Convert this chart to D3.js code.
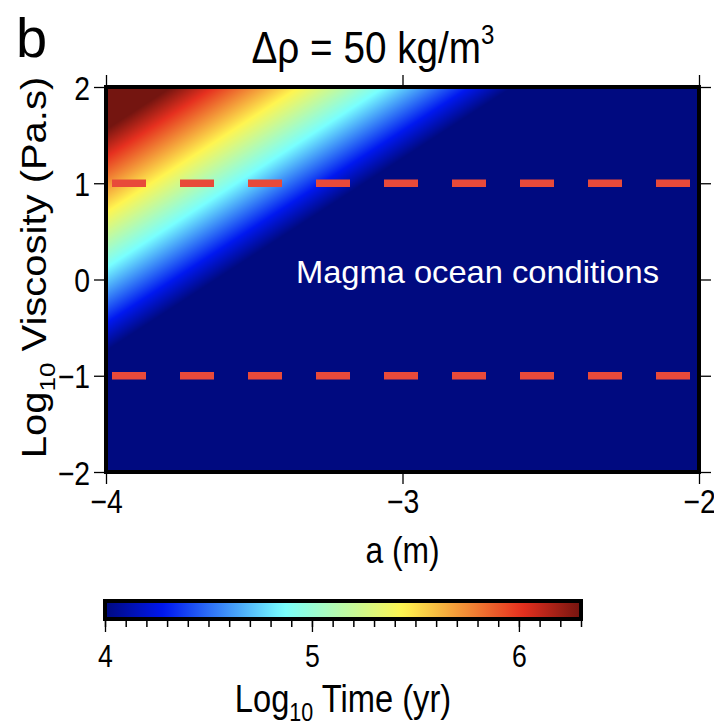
<!DOCTYPE html>
<html>
<head>
<meta charset="utf-8">
<script src="https://cdn.jsdelivr.net/npm/d3@7"></script>
<style>
  html, body { margin: 0; padding: 0; background: #fff; }
  svg { display: block; font-family: "Liberation Sans", Arial, Helvetica, sans-serif; }
</style>
</head>
<body>
<svg id="chart" width="714" height="725"></svg>
<script>
// ---------------- data ----------------
const aDomain = [-4, -2];                 // log10 a (m)
const viscDomain = [-2, 2];               // log10 viscosity (Pa.s)
const timeDomain = [4, 6.3];              // log10 time (yr), colour range
const aTicks = [-4, -3, -2];
const viscTicks = [-2, -1, 0, 1, 2];
const timeTicks = [4, 5, 6];
const timeMinorStep = 0.1;
const dashedViscosity = [1, -1];          // magma ocean viscosity bounds
// jet colour map: stop positions (fraction of range) and colours
const jetPositions = [0, 0.125, 0.375, 0.625, 0.875, 1];
const jetColors = ["#000a80", "#0018f0", "#78ffff", "#fff550", "#e6301f", "#741510"];
// Stokes settling model parameters (Δρ from title)
const deltaRho = 50;        // kg/m3
const gravity = 9.81;       // m/s2
const depth = 1.9e6;        // m, settling depth
const secondsPerYear = 3.156e7;

// ---------------- layout ----------------
const SX = 0.86; // horizontal squeeze of the lettering
const svg = d3.select("#chart");
const L = 106, R = 699, T = 87, B = 472;
const x = d3.scaleLinear().domain(aDomain).range([L, R]);
const y = d3.scaleLinear().domain(viscDomain).range([B, T]);
const cbL = 105, cbR = 581, cbT = 601, cbB = 619;
const cx = d3.scaleLinear().domain(timeDomain).range([cbL, cbR]);
const color = d3.scaleLinear()
  .domain(jetPositions.map(p => timeDomain[0] + p * (timeDomain[1] - timeDomain[0])))
  .range(jetColors)
  .interpolate(d3.interpolateRgb)
  .clamp(true);

function logTime(logA, logVisc) {
  const a = Math.pow(10, logA), eta = Math.pow(10, logVisc);
  const v = 2 * deltaRho * gravity * a * a / (9 * eta);
  return Math.log10(depth / v / secondsPerYear);
}

// ---------------- heat map ----------------
const W = R - L, H = B - T;
const canvas = document.createElement("canvas");
canvas.width = W; canvas.height = H;
const ctx = canvas.getContext("2d");
const img = ctx.createImageData(W, H);
for (let j = 0; j < H; j++) {
  const v = y.invert(T + j + 0.5);
  for (let i = 0; i < W; i++) {
    const a = x.invert(L + i + 0.5);
    const c = d3.rgb(color(logTime(a, v)));
    const k = (j * W + i) * 4;
    img.data[k] = c.r; img.data[k + 1] = c.g; img.data[k + 2] = c.b; img.data[k + 3] = 255;
  }
}
ctx.putImageData(img, 0, 0);
svg.append("image")
  .attr("x", L).attr("y", T).attr("width", W).attr("height", H)
  .attr("preserveAspectRatio", "none")
  .attr("href", canvas.toDataURL());

// dashed lines
svg.selectAll("line.dash").data(dashedViscosity).enter().append("line")
  .attr("class", "dash")
  .attr("x1", x(aDomain[0]) + 6).attr("x2", x(aDomain[1]))
  .attr("y1", d => y(d)).attr("y2", d => y(d))
  .attr("stroke", "#e84a3a").attr("stroke-width", 7.5)
  .attr("stroke-dasharray", "34,34");

// label
svg.append("text").attr("x", 296).attr("y", 283)
  .attr("fill", "#fff").attr("font-size", 32).attr("textLength", 363)
  .attr("lengthAdjust", "spacingAndGlyphs").text("Magma ocean conditions");

// ---------------- axes ----------------
const tickFmt = d => d < 0 ? "\u2212" + Math.abs(d) : String(d);
function styleAxis(g) {
  g.attr("font-size", null).attr("font-family", null);
  g.select(".domain").attr("stroke", "#000").attr("stroke-width", 1.3);
  g.selectAll(".tick line").attr("stroke", "#000").attr("stroke-width", 1.3);
  g.selectAll(".tick text").attr("fill", "#000").attr("font-size", 33);
}
// bottom
svg.append("g").attr("transform", `translate(0,${B})`)
  .call(d3.axisBottom(x).tickValues(aTicks).tickFormat(tickFmt).tickSize(12).tickSizeOuter(0))
  .call(styleAxis)
  .call(g => g.selectAll(".tick text").attr("y", 0).attr("dy", null)
    .attr("transform", `translate(0,41) scale(${SX},1)`));
// top (ticks only)
svg.append("g").attr("transform", `translate(0,${T})`)
  .call(d3.axisTop(x).tickValues(aTicks).tickFormat("").tickSize(12).tickSizeOuter(0))
  .call(styleAxis);
// left
svg.append("g").attr("transform", `translate(${L},0)`)
  .call(d3.axisLeft(y).tickValues(viscTicks).tickFormat(tickFmt).tickSize(12).tickSizeOuter(0))
  .call(styleAxis)
  .call(g => g.selectAll(".tick text").attr("x", 0).attr("dy", null).attr("y", 0)
    .attr("transform", `translate(-16,12) scale(${SX},1)`));
// right (ticks only)
svg.append("g").attr("transform", `translate(${R},0)`)
  .call(d3.axisRight(y).tickValues(viscTicks).tickFormat("").tickSize(12).tickSizeOuter(0))
  .call(styleAxis);

// thick frame
svg.append("rect").attr("x", L).attr("y", T).attr("width", W).attr("height", H)
  .attr("fill", "none").attr("stroke", "#000").attr("stroke-width", 4);

// axis titles
svg.append("text").attr("transform", `translate(${(L + R) / 2},563) scale(${SX},1)`)
  .attr("text-anchor", "middle").attr("font-size", 37).text("a (m)");
const yl = svg.append("text").attr("transform", `translate(46,${(T + B) / 2 - 12}) scale(${SX},1) rotate(-90)`)
  .attr("text-anchor", "middle").attr("font-size", 40);
yl.append("tspan").text("Log");
yl.append("tspan").attr("font-size", 26).attr("dy", 10).text("10");
yl.append("tspan").attr("dy", -10).text(" Viscosity (Pa.s)");

// title and panel letter
const tt = svg.append("text").attr("transform", `translate(373,63) scale(${SX},1)`)
  .attr("text-anchor", "middle").attr("font-size", 45);
tt.append("tspan").text("\u0394\u03c1 = 50 kg/m");
tt.append("tspan").attr("font-size", 28).attr("dy", -19).text("3");
svg.append("text").attr("x", 16).attr("y", 57).attr("font-size", 56).text("b");

// ---------------- colour bar ----------------
const defs = svg.append("defs");
const grad = defs.append("linearGradient").attr("id", "jet").attr("x1", "0%").attr("x2", "100%");
grad.selectAll("stop").data(d3.range(0, 1.0001, 0.02)).enter().append("stop")
  .attr("offset", d => (d * 100) + "%")
  .attr("stop-color", d => color(timeDomain[0] + d * (timeDomain[1] - timeDomain[0])));
svg.append("rect").attr("x", cbL).attr("y", cbT).attr("width", cbR - cbL).attr("height", cbB - cbT)
  .attr("fill", "url(#jet)").attr("stroke", "#000").attr("stroke-width", 4);

const minor = d3.range(timeDomain[0], timeDomain[1] + 1e-9, timeMinorStep);
svg.append("g").attr("transform", `translate(0,${cbB + 2})`)
  .call(d3.axisBottom(cx).tickValues(minor).tickFormat("").tickSize(6).tickSizeOuter(0))
  .call(g => g.select(".domain").remove())
  .call(g => g.selectAll(".tick line").attr("stroke", "#000").attr("stroke-width", 1.5));
svg.append("g").attr("transform", `translate(0,${cbB + 2})`)
  .call(d3.axisBottom(cx).tickValues(timeTicks).tickFormat(d3.format("d")).tickSize(11).tickSizeOuter(0))
  .call(g => g.select(".domain").remove())
  .call(styleAxis)
  .call(g => g.selectAll(".tick text").attr("y", 0).attr("dy", null).attr("font-size", 31)
    .attr("transform", `translate(0,46) scale(${SX},1)`));

const ct = svg.append("text").attr("transform", `translate(343,712) scale(${SX},1)`)
  .attr("text-anchor", "middle").attr("font-size", 38);
ct.append("tspan").text("Log");
ct.append("tspan").attr("font-size", 25).attr("dy", 9).text("10");
ct.append("tspan").attr("dy", -9).text(" Time (yr)");
</script>
</body>
</html>
